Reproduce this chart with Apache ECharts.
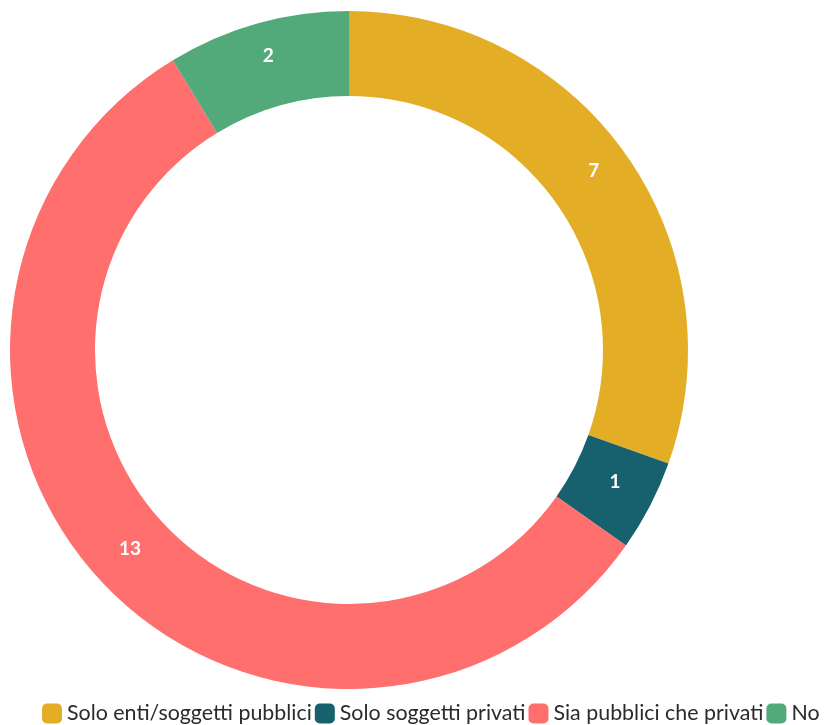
<!DOCTYPE html>
<html>
<head>
<meta charset="utf-8">
<script src="https://cdn.jsdelivr.net/npm/echarts@6/dist/echarts.min.js"></script>
<style>
  html, body { margin: 0; padding: 0; background: #ffffff; }
  #chart { width: 832px; height: 725px; }
</style>
</head>
<body>
<div id="chart"></div>
<script>
// Risposte: a chi si rivolgono i servizi
const categories = ['Solo enti/soggetti pubblici', 'Solo soggetti privati', 'Sia pubblici che privati', 'No'];
const values = [7, 1, 13, 2];
const colors = ['#E3AE26', '#17606E', '#FF6F6E', '#52A97A'];

const chart = echarts.init(document.getElementById('chart'), null, { renderer: 'canvas' });

chart.setOption({
  animation: false,
  color: colors,
  textStyle: { fontFamily: 'Lato, "Noto Sans", sans-serif' },
  legend: {
    left: 42,
    top: 703,
    padding: 0,
    width: 3000,
    itemWidth: 20,
    itemHeight: 20,
    itemGap: 3,
    icon: 'roundRect',
    textStyle: { fontSize: 21.4, color: '#2b2b2b' },
    data: categories
  },
  series: [{
    type: 'pie',
    center: [349, 350],
    radius: [254, 339],
    startAngle: 90,
    clockwise: true,
    avoidLabelOverlap: false,
    label: {
      show: true,
      position: 'inside',
      color: '#ffffff',
      fontSize: 19,
      fontWeight: 'bold',
      offset: [0, -6],
      formatter: '{c}'
    },
    labelLine: { show: false },
    itemStyle: { borderWidth: 0 },
    emphasis: { disabled: true },
    data: categories.map((name, i) => ({ name, value: values[i] }))
  }]
});
</script>
</body>
</html>
